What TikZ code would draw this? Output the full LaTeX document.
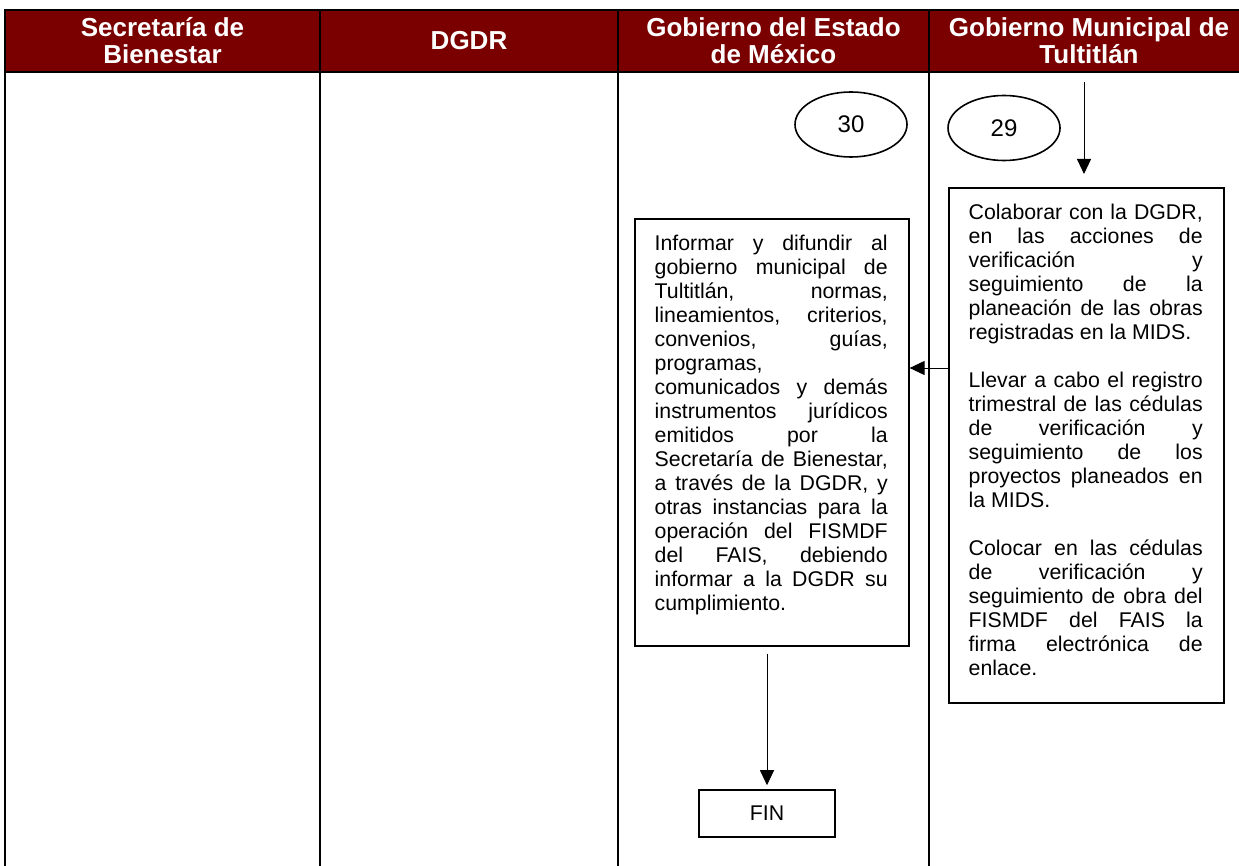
\documentclass[tikz,border=0pt]{standalone}
\usepackage{fontspec}
\setmainfont{Liberation Sans}
\usepackage{xcolor}
\usepackage{tikz}
\usetikzlibrary{shapes.geometric,arrows.meta,positioning}
\definecolor{guinda}{RGB}{122,0,0}
\tolerance=10000
\hbadness=10000

\begin{document}
\begin{tikzpicture}[x=1pt,y=-1pt,
  lane/.style={line width=2pt},
  head/.style={text=white,align=center,font=\fontsize{26}{27}\selectfont\bfseries},
  oval/.style={ellipse,draw,line width=1.6pt,minimum width=112pt,minimum height=65pt,font=\fontsize{24}{26}\selectfont},
  taskbox/.style={draw,line width=1.6pt,anchor=north west,inner sep=0pt,minimum width=274pt},
  tasktext/.style={anchor=north west,inner sep=0pt,text width=233pt,align=justify,font=\fontsize{21.3}{24}\selectfont},
  flow/.style={-{Triangle[length=15pt,width=14pt]},line width=1pt}]
\useasboundingbox (0,0) rectangle (1239,866);
\fill[guinda] (5,10) rectangle (1249,72);
\draw[lane] (5,870) -- (5,10) -- (1249,10);
\draw[lane] (5,72) -- (1249,72);
\foreach \x in {320,618,929} \draw[lane] (\x,10) -- (\x,870);
\node[head] (h1) at (162.5,41) {Secretaría de\\Bienestar};
\node[head] (h2) at (469,41) {DGDR};
\node[head] (h3) at (773.5,41) {Gobierno del Estado\\de México};
\node[head] (h4) at (1089,41) {Gobierno Municipal de\\Tultitlán};
\node[oval] (e30) at (851,124.5) {30};
\node[oval] (e29) at (1004,128) {29};
\node[taskbox,minimum height=427pt] (b30) at (634,218) {};
\node[tasktext] (t30) at ([shift={(20.5,16.6)}]b30.north west) {Informar y difundir al\linebreak
gobierno municipal de\linebreak
Tultitlán, normas,\linebreak
lineamientos, criterios,\linebreak
convenios, guías,\linebreak
programas,\linebreak
comunicados y demás\linebreak
instrumentos jurídicos\linebreak
emitidos por la\linebreak
Secretaría de Bienestar,\linebreak
a través de la DGDR, y\linebreak
otras instancias para la\linebreak
operación del FISMDF\linebreak
del FAIS, debiendo\linebreak
informar a la DGDR su\linebreak
cumplimiento.};
\node[taskbox,minimum width=275pt,minimum height=515pt] (b29) at (948,187) {};
\node[tasktext,text width=234pt] (t29) at ([shift={(20.5,17.2)}]b29.north west) {Colaborar con la DGDR,\linebreak
en las acciones de\linebreak
verificación y\linebreak
seguimiento de la\linebreak
planeación de las obras\linebreak
registradas en la MIDS.\par\vspace{24pt}
Llevar a cabo el registro\linebreak
trimestral de las cédulas\linebreak
de verificación y\linebreak
seguimiento de los\linebreak
proyectos planeados en\linebreak
la MIDS.\par\vspace{24pt}
Colocar en las cédulas\linebreak
de verificación y\linebreak
seguimiento de obra del\linebreak
FISMDF del FAIS la\linebreak
firma electrónica de\linebreak
enlace.};
\node[draw,line width=1.6pt,minimum width=136pt,minimum height=47pt,font=\fontsize{21.3}{24}\selectfont] (fin) at (767,813.5) {FIN};
\coordinate (in29) at (1084,82);
\coordinate (lnk) at (930,368);
\draw[flow,shorten >=13pt] (in29) -- (in29 |- b29.north);
\draw[flow] (lnk -| b29.west) -- (lnk -| b30.east);
\draw[flow,shorten <=7pt,shorten >=4pt] (b30.south -| fin.north) -- (fin.north);
\end{tikzpicture}
\end{document}
